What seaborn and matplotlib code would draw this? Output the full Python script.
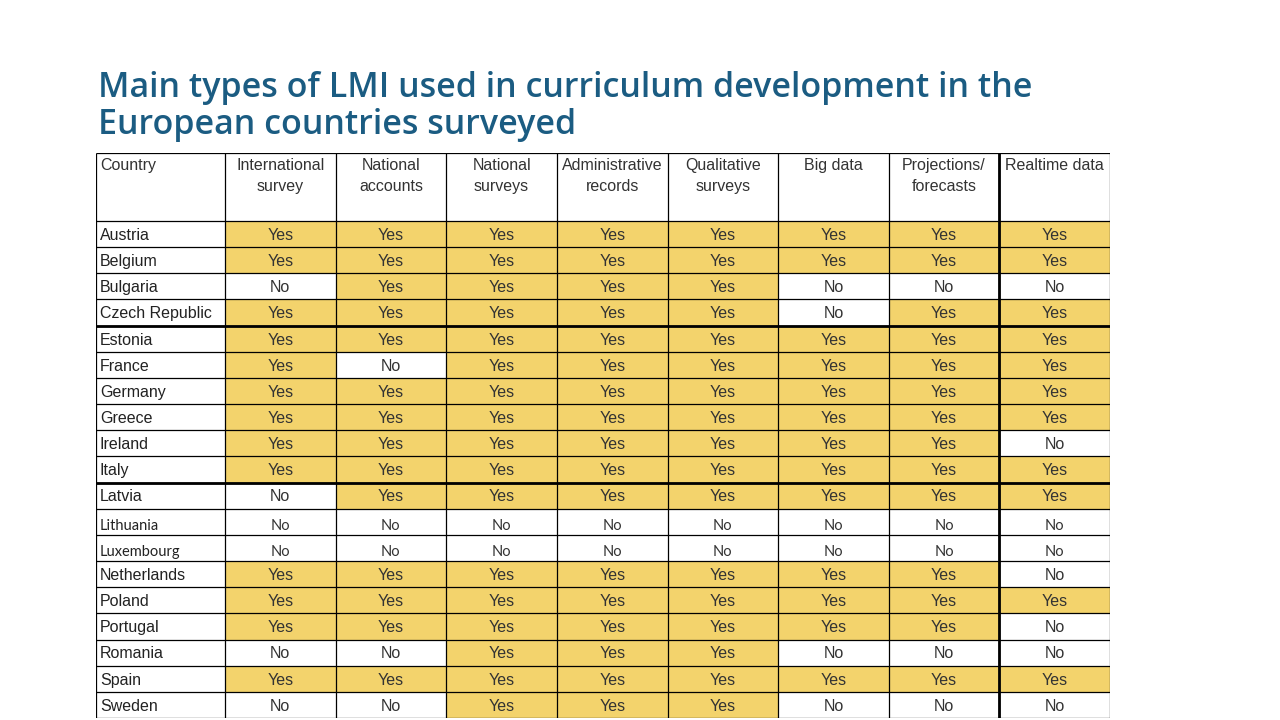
import numpy as np
import pandas as pd
import seaborn as sns
import matplotlib.pyplot as plt
from matplotlib.colors import ListedColormap

# ---------------- data ----------------
countries = ["Austria", "Belgium", "Bulgaria", "Czech Republic", "Estonia", "France",
             "Germany", "Greece", "Ireland", "Italy", "Latvia", "Lithuania",
             "Luxembourg", "Netherlands", "Poland", "Portugal", "Romania", "Spain", "Sweden"]

column_labels = ["International\nsurvey", "National\naccounts", "National\nsurveys",
                 "Administrative\nrecords", "Qualitative\nsurveys", "Big data",
                 "Projections/\nforecasts", "Realtime data"]

Y, N = "Yes", "No"
international_survey   = [Y, Y, N, Y, Y, Y, Y, Y, Y, Y, N, N, N, Y, Y, Y, N, Y, N]
national_accounts      = [Y, Y, Y, Y, Y, N, Y, Y, Y, Y, Y, N, N, Y, Y, Y, N, Y, N]
national_surveys       = [Y, Y, Y, Y, Y, Y, Y, Y, Y, Y, Y, N, N, Y, Y, Y, Y, Y, Y]
administrative_records = [Y, Y, Y, Y, Y, Y, Y, Y, Y, Y, Y, N, N, Y, Y, Y, Y, Y, Y]
qualitative_surveys    = [Y, Y, Y, Y, Y, Y, Y, Y, Y, Y, Y, N, N, Y, Y, Y, Y, Y, Y]
big_data               = [Y, Y, N, N, Y, Y, Y, Y, Y, Y, Y, N, N, Y, Y, Y, N, Y, N]
projections_forecasts  = [Y, Y, N, Y, Y, Y, Y, Y, Y, Y, Y, N, N, Y, Y, Y, N, Y, N]
realtime_data          = [Y, Y, N, Y, Y, Y, Y, Y, N, Y, Y, N, N, N, Y, N, N, Y, N]

title = "Main types of LMI used in curriculum development in the\nEuropean countries surveyed"

# ---------------- build table ----------------
labels = pd.DataFrame(
    np.array([international_survey, national_accounts, national_surveys,
              administrative_records, qualitative_surveys, big_data,
              projections_forecasts, realtime_data]).T,
    index=countries, columns=column_labels)
values = (labels == "Yes").astype(int)

GOLD = "#F3D36C"
TXT = "#333333"
plt.rcParams["font.family"] = ["Liberation Sans", "DejaVu Sans"]

fig = plt.figure(figsize=(12.8, 7.2), dpi=100)
fig.patch.set_facecolor("white")

L, R, T, B = 96, 1110, 153, 718
ax = fig.add_axes([L / 1280, 1 - B / 720, (R - L) / 1280, (B - T) / 720])

sns.heatmap(values, ax=ax, cmap=ListedColormap(["white", GOLD]), vmin=0, vmax=1,
            cbar=False, annot=labels.values, fmt="", linewidths=0,
            annot_kws={"fontsize": 11.5, "color": TXT})

cw = 129 / ((R - 96 - 129) / 8)  # country column width in data units
hh = 68 / ((B - 221) / 19)       # header height in data units
ax.set_xlim(-cw, 8)
ax.set_ylim(19, -hh)
ax.set_xticks([])
ax.set_yticks([])
ax.set_xlabel("")
ax.set_ylabel("")
for s in ax.spines.values():
    s.set_visible(False)

# slightly lower the annotations and restyle the Calibri-looking rows
for t in ax.texts:
    x, y = t.get_position()
    t.set_position((x, y + 0.05))
    if int(y) in (11, 12):
        t.set_fontfamily(["Lato", "DejaVu Sans"])
        t.set_fontsize(10.5)
        t.set_position((x, y + 0.15))

# country names
for i, c in enumerate(countries):
    if c in ("Lithuania", "Luxembourg"):
        kw = dict(family=["Lato", "DejaVu Sans"], fontsize=10.5)
        yy = i + 0.65
    else:
        kw = dict(fontsize=11.5)
        yy = i + 0.55
    ax.text(-cw + 0.035, yy, c, ha="left", va="center", color="#222222", **kw)

# header
ax.text(-cw + 0.035, -hh + 0.2, "Country", ha="left", va="top", fontsize=11.5, color="#333333")
for j, h in enumerate(column_labels):
    ax.text(j + 0.5, -hh + 0.2, h, ha="center", va="top", fontsize=11.5,
            color="#333333", linespacing=1.5)

# grid lines
lw = 0.9
ax.hlines(np.arange(1, 19), -cw, 8, color="black", lw=lw)
ax.hlines([-hh, 0, 19], -cw, 8, color="black", lw=lw)
ax.vlines(np.arange(0, 9), -hh, 19, color="black", lw=lw)
ax.vlines([-cw], -hh, 19, color="black", lw=lw)
ax.hlines([4, 10], -cw, 8, color="black", lw=2.0)
ax.vlines([7], -hh, 19, color="black", lw=2.0)

# title
fig.text(98 / 1280, 1 - 71 / 720, title, ha="left", va="top", fontsize=24.5,
         color="#1B5C82", family=["Open Sans", "DejaVu Sans"], weight="semibold",
         linespacing=1.12)

fig.savefig("out.png", dpi=100, facecolor="white")
